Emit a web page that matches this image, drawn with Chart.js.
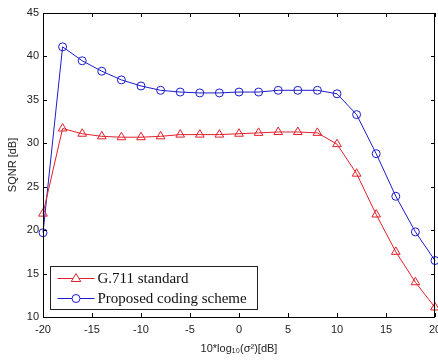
<!DOCTYPE html>
<html>
<head>
<meta charset="utf-8">
<title>SQNR vs input variance</title>
<script src="https://cdn.jsdelivr.net/npm/chart.js@4.4.1/dist/chart.umd.min.js"></script>
<style>
    html, body { margin: 0; padding: 0; background: #ffffff; }
    #wrap { width: 438px; height: 360px; }
</style>
</head>
<body>
<div id="wrap"><canvas id="sqnrChart" width="438" height="360"></canvas></div>
<script>
// ==========================================
// Data
// ==========================================

const noiseLevels = [-20, -18, -16, -14, -12, -10, -8, -6, -4, -2, 0, 2, 4, 6, 8, 10, 12, 14, 16, 18, 20];
const g711Sqnr = [21.9, 31.7, 31.1, 30.8, 30.7, 30.7, 30.8, 31.0, 31.0, 31.0, 31.1, 31.2, 31.3, 31.3, 31.2, 29.9, 26.5, 21.8, 17.5, 14.0, 11.1];
const proposedSqnr = [19.7, 41.1, 39.5, 38.3, 37.3, 36.6, 36.1, 35.9, 35.8, 35.8, 35.9, 35.9, 36.1, 36.1, 36.1, 35.7, 33.3, 28.8, 23.9, 19.8, 16.5];
const seriesLabels = ['G.711 standard', 'Proposed coding scheme'];
const xTickValues = [-20, -15, -10, -5, 0, 5, 10, 15, 20];
const yTickValues = [10, 15, 20, 25, 30, 35, 40, 45];

const RED = '#e0202a';
const BLUE = '#1c1ccc';

function toPoints(values) {
    return noiseLevels.map((x, i) => ({ x: x, y: values[i] }));
}

// ==========================================
// Plugins: MATLAB style frame with inward ticks, boxed legend
// ==========================================

const frameTicksPlugin = {
    id: 'frameTicks',
    afterDraw: function(chart) {
        const ctx = chart.ctx;
        const a = chart.chartArea;
        const xs = chart.scales.x;
        const ys = chart.scales.y;
        const len = 4;

        ctx.save();
        ctx.strokeStyle = '#000000';
        ctx.lineWidth = 1;
        ctx.beginPath();
        xTickValues.forEach(v => {
            const px = Math.round(xs.getPixelForValue(v)) + 0.5;
            ctx.moveTo(px, a.bottom);
            ctx.lineTo(px, a.bottom - len);
            ctx.moveTo(px, a.top);
            ctx.lineTo(px, a.top + len);
        });
        yTickValues.forEach(v => {
            const py = Math.round(ys.getPixelForValue(v)) + 0.5;
            ctx.moveTo(a.left, py);
            ctx.lineTo(a.left + len, py);
            ctx.moveTo(a.right, py);
            ctx.lineTo(a.right - len, py);
        });
        ctx.stroke();
        ctx.strokeRect(Math.round(a.left) + 0.5, Math.round(a.top) + 0.5,
            Math.round(a.right - a.left) - 1, Math.round(a.bottom - a.top));
        ctx.restore();
    }
};

const boxLegendPlugin = {
    id: 'boxLegend',
    afterDraw: function(chart) {
        const ctx = chart.ctx;
        const a = chart.chartArea;
        const boxX = a.left + 7.5;
        const boxY = 266.5;
        const boxW = 207;
        const boxH = 43;
        const rowH = 20;

        ctx.save();
        ctx.fillStyle = '#ffffff';
        ctx.fillRect(boxX, boxY, boxW, boxH);
        ctx.strokeStyle = '#222222';
        ctx.lineWidth = 1;
        ctx.strokeRect(boxX, boxY, boxW, boxH);

        ctx.font = '15px "Liberation Serif", "Times New Roman", serif';
        ctx.textBaseline = 'middle';
        ctx.textAlign = 'left';

        chart.data.datasets.forEach((ds, i) => {
            const cy = boxY + 12 + i * rowH;
            const x0 = boxX + 7;
            const x1 = boxX + 44;
            const mx = (x0 + x1) / 2;
            ctx.strokeStyle = ds.borderColor;
            ctx.lineWidth = 1;
            ctx.beginPath();
            ctx.moveTo(x0, cy);
            ctx.lineTo(x1, cy);
            ctx.stroke();

            ctx.fillStyle = '#ffffff';
            ctx.beginPath();
            if (ds.pointStyle === 'triangle') {
                const r = ds.pointRadius;
                ctx.moveTo(mx, cy - r);
                ctx.lineTo(mx + r * 0.95, cy + r * 0.6);
                ctx.lineTo(mx - r * 0.95, cy + r * 0.6);
                ctx.closePath();
            } else {
                ctx.arc(mx, cy, ds.pointRadius, 0, Math.PI * 2);
            }
            ctx.fill();
            ctx.stroke();

            ctx.fillStyle = '#111111';
            ctx.fillText(ds.label, x1 + 3, cy + 1);
        });
        ctx.restore();
    }
};

// ==========================================
// Chart
// ==========================================

const ctx = document.getElementById('sqnrChart');

new Chart(ctx, {
    type: 'line',
    data: {
        datasets: [{
            label: seriesLabels[0],
            data: toPoints(g711Sqnr),
            borderColor: RED,
            backgroundColor: '#ffffff',
            borderWidth: 1,
            pointStyle: 'triangle',
            pointRadius: 5,
            pointBorderWidth: 1,
            pointBorderColor: RED,
            pointBackgroundColor: 'rgba(255,255,255,0)',
            tension: 0
        }, {
            label: seriesLabels[1],
            data: toPoints(proposedSqnr),
            borderColor: BLUE,
            backgroundColor: '#ffffff',
            borderWidth: 1,
            pointStyle: 'circle',
            pointRadius: 4,
            pointBorderWidth: 1,
            pointBorderColor: BLUE,
            pointBackgroundColor: 'rgba(255,255,255,0)',
            tension: 0
        }]
    },
    options: {
        responsive: false,
        animation: false,
        clip: false,
        layout: {
            autoPadding: false,
            padding: { top: 13, right: 3, left: 0, bottom: 0 }
        },
        plugins: {
            legend: { display: false },
            tooltip: { enabled: false }
        },
        scales: {
            x: {
                type: 'linear',
                min: -20,
                max: 20,
                afterFit: function(scale) {
                    scale.height = 43;
                    scale.paddingLeft = 0;
                    scale.paddingRight = 0;
                },
                afterBuildTicks: function(scale) {
                    scale.ticks = xTickValues.map(v => ({ value: v }));
                },
                grid: { display: false, drawTicks: false },
                border: { display: false },
                ticks: {
                    color: '#222222',
                    padding: 6,
                    maxRotation: 0,
                    autoSkip: false,
                    font: { family: '"Liberation Sans", Arial, sans-serif', size: 11 }
                },
                title: {
                    display: true,
                    text: '10*log\u2081\u2080(\u03c3\u00b2)[dB]',
                    color: '#222222',
                    padding: { top: 0, bottom: 4 },
                    font: { family: '"Liberation Sans", Arial, sans-serif', size: 11 }
                }
            },
            y: {
                type: 'linear',
                min: 10,
                max: 45,
                afterFit: function(scale) {
                    scale.width = 43;
                    scale.paddingTop = 0;
                    scale.paddingBottom = 0;
                },
                afterBuildTicks: function(scale) {
                    scale.ticks = yTickValues.map(v => ({ value: v }));
                },
                grid: { display: false, drawTicks: false },
                border: { display: false },
                ticks: {
                    color: '#222222',
                    padding: 4,
                    autoSkip: false,
                    font: { family: '"Liberation Sans", Arial, sans-serif', size: 11 }
                },
                title: {
                    display: true,
                    text: 'SQNR [dB]',
                    color: '#222222',
                    padding: { top: 6, bottom: 0 },
                    font: { family: '"Liberation Sans", Arial, sans-serif', size: 11 }
                }
            }
        }
    },
    plugins: [frameTicksPlugin, boxLegendPlugin]
});
</script>
</body>
</html>
